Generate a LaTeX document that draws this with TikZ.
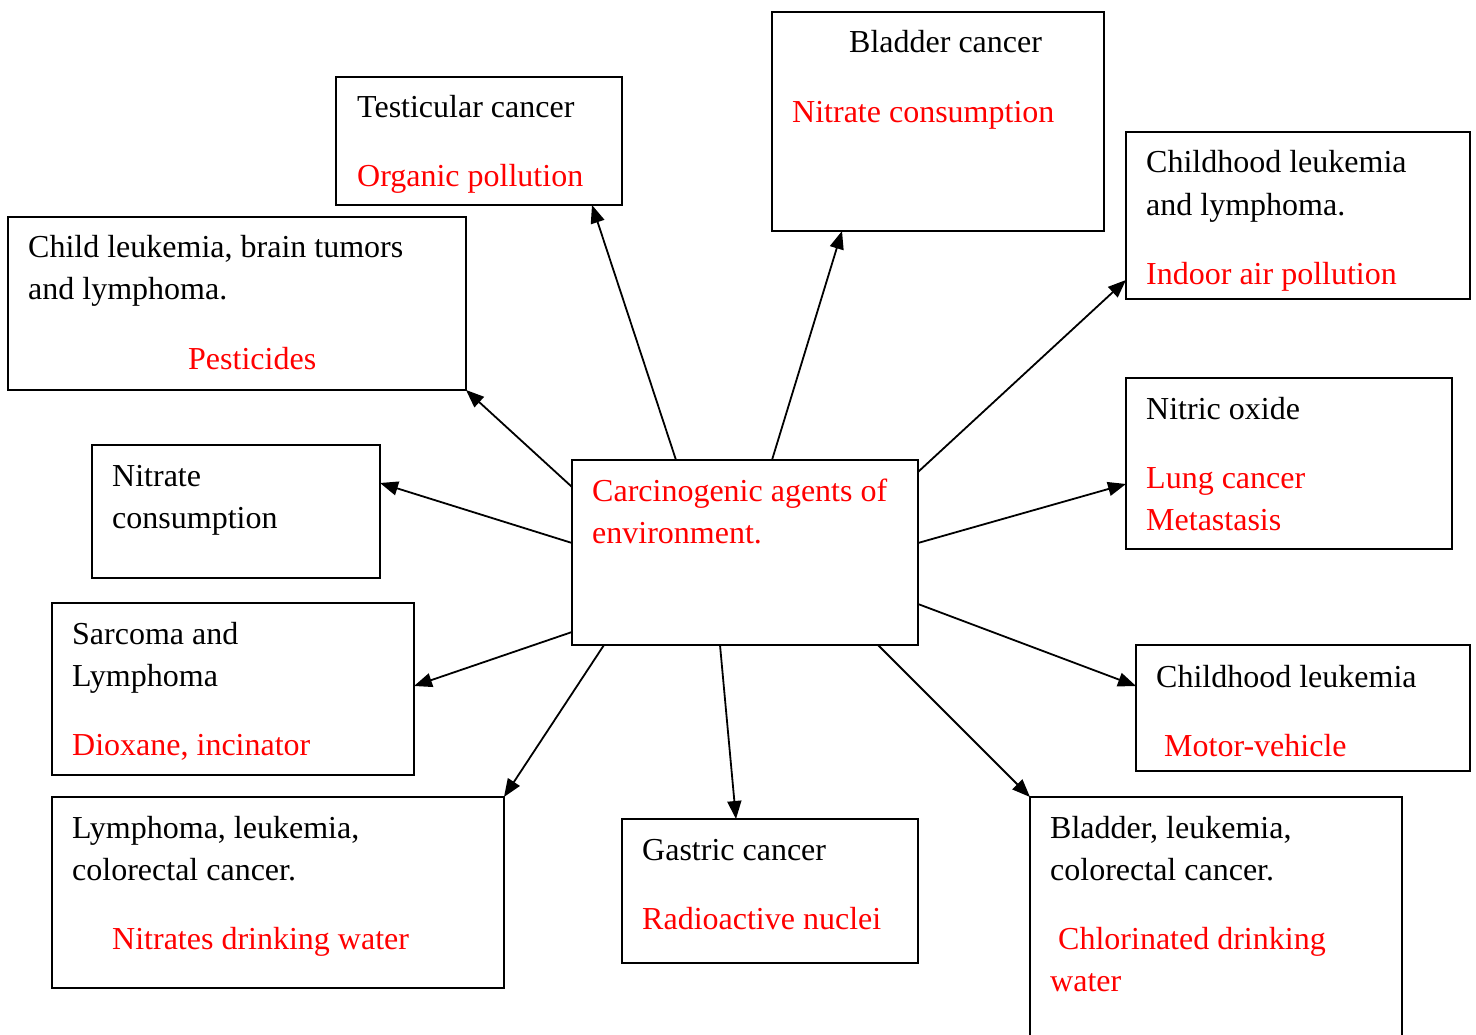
\documentclass[tikz,border=0pt]{standalone}
\usepackage{fontspec}
\setmainfont{Liberation Serif}
\usetikzlibrary{arrows.meta,calc}
\begin{document}
\begin{tikzpicture}[x=1pt,y=-1pt,
 box/.style={draw,line width=2pt,inner sep=0pt,outer sep=0pt,anchor=north west},
 lbl/.style={anchor=base west,inner sep=0pt,font=\fontsize{32}{42}\selectfont},
 rlbl/.style={lbl,text=red},
 arr/.style={line width=1.8pt,-{Triangle[length=18pt,width=14pt]}}]
\useasboundingbox[fill=white] (0,0) rectangle (1476,1035);
% boxes
\node[box,minimum width=346pt,minimum height=185pt] (ctr) at (572,460) {};
\node[box,minimum width=286pt,minimum height=128pt] (tes) at (336,77) {};
\node[box,minimum width=332pt,minimum height=219pt] (bla) at (772,12) {};
\node[box,minimum width=344pt,minimum height=167pt] (chl) at (1126,132) {};
\node[box,minimum width=458pt,minimum height=173pt] (clb) at (8,217) {};
\node[box,minimum width=288pt,minimum height=133pt] (nit) at (92,445) {};
\node[box,minimum width=326pt,minimum height=171pt] (nox) at (1126,378) {};
\node[box,minimum width=362pt,minimum height=172pt] (sar) at (52,603) {};
\node[box,minimum width=334pt,minimum height=126pt] (chk) at (1136,645) {};
\node[box,minimum width=452pt,minimum height=191pt] (lym) at (52,797) {};
\node[box,minimum width=296pt,minimum height=144pt] (gas) at (622,819) {};
\node[box,minimum width=372pt,minimum height=260pt] (blc) at (1030,797) {};
% texts
\node[rlbl] (ctr1) at (592,501) {Carcinogenic agents of};
\node[rlbl] (ctr2) at (592,543) {environment.};
\node[lbl] (tes1) at (357,118) {Testicular cancer};
\node[rlbl] (tes2) at (357,187) {Organic pollution};
\node[lbl] (bla1) at (849,53) {Bladder cancer};
\node[rlbl] (bla2) at (792,123) {Nitrate consumption};
\node[lbl] (chl1) at (1146,173) {Childhood leukemia};
\node[lbl] (chl2) at (1146,216) {and lymphoma.};
\node[rlbl] (chl3) at (1146,285) {Indoor air pollution};
\node[lbl] (clb1) at (28,258) {Child leukemia, brain tumors};
\node[lbl] (clb2) at (28,300) {and lymphoma.};
\node[rlbl] (clb3) at (188,369) {Pesticides};
\node[lbl] (nit1) at (112,486) {Nitrate};
\node[lbl] (nit2) at (112,528) {consumption};
\node[lbl] (nox1) at (1146,419) {Nitric oxide};
\node[rlbl] (nox2) at (1146,488) {Lung cancer};
\node[rlbl] (nox3) at (1146,530) {Metastasis};
\node[lbl] (sar1) at (72,644) {Sarcoma and};
\node[lbl] (sar2) at (72,686) {Lymphoma};
\node[rlbl] (sar3) at (72,755) {Dioxane, incinator};
\node[lbl] (chk1) at (1156,687) {Childhood leukemia};
\node[rlbl] (chk2) at (1164,756) {Motor-vehicle};
\node[lbl] (lym1) at (72,838) {Lymphoma, leukemia,};
\node[lbl] (lym2) at (72,880) {colorectal cancer.};
\node[rlbl] (lym3) at (112,949) {Nitrates drinking water};
\node[lbl] (gas1) at (642,860) {Gastric cancer};
\node[rlbl] (gas2) at (642,929) {Radioactive nuclei};
\node[lbl] (blc1) at (1050,838) {Bladder, leukemia,};
\node[lbl] (blc2) at (1050,880) {colorectal cancer.};
\node[rlbl] (blc3) at (1058,949) {Chlorinated drinking};
\node[rlbl] (blc4) at (1050,991) {water};
% arrows
\draw[arr] ($(ctr.north west)+(104,0)$) -- ($(tes.south west)+(256,0)$);
\draw[arr] ($(ctr.north west)+(200,0)$) -- ($(bla.south west)+(70,0)$);
\draw[arr] ($(ctr.north east)+(0,12)$) -- ($(chl.north west)+(0,148)$);
\draw[arr] ($(ctr.north west)+(0,27)$) -- (clb.south east);
\draw[arr] ($(ctr.north west)+(0,83)$) -- ($(nit.north east)+(0,38)$);
\draw[arr] ($(ctr.north east)+(0,83)$) -- ($(nox.north west)+(0,106)$);
\draw[arr] ($(ctr.south west)+(0,-13)$) -- ($(sar.north east)+(0,83)$);
\draw[arr] ($(ctr.north east)+(0,144)$) -- ($(chk.north west)+(0,41)$);
\draw[arr] ($(ctr.south west)+(32,0)$) -- (lym.north east);
\draw[arr] ($(ctr.south west)+(148,0)$) -- ($(gas.north west)+(114,0)$);
\draw[arr] ($(ctr.south west)+(306,0)$) -- (blc.north west);
\end{tikzpicture}
\end{document}
